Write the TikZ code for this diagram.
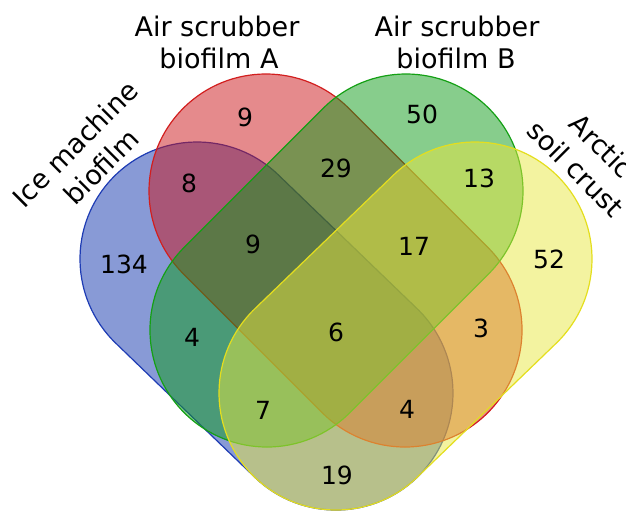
\documentclass[tikz,border=0pt]{standalone}
\usepackage{fontspec}
\setmainfont{DejaVu Sans}
\definecolor{bfill}{RGB}{17,53,173}
\definecolor{bline}{RGB}{30,60,180}
\definecolor{rfill}{RGB}{203,21,25}
\definecolor{rline}{RGB}{210,30,30}
\definecolor{gfill}{RGB}{15,155,25}
\definecolor{gline}{RGB}{20,160,20}
\definecolor{yfill}{RGB}{231,231,65}
\definecolor{yline}{RGB}{228,222,30}
\begin{document}
\begin{tikzpicture}[x=1pt,y=1pt,
  setshape/.style={line width=1.2pt, fill opacity=0.5},
  num/.style={font=\fontsize{25}{30}\selectfont, text=black, inner sep=0pt},
  lab/.style={font=\fontsize{27}{32}\selectfont, text=black, inner sep=0pt}]
\useasboundingbox (0,0) rectangle (626,515);
% Ice machine biofilm (blue)
\begin{scope}[shift={(197,256)}, rotate=-43.96]
\draw[setshape, draw=bline, fill=bfill] (0,-117) -- (193.1,-117)
  arc[start angle=-90, end angle=90, radius=117pt] -- (0,117)
  arc[start angle=90, end angle=270, radius=117pt] -- cycle;
\end{scope}
% Air scrubber biofilm A (red)
\begin{scope}[shift={(266,324)}, rotate=-45]
\draw[setshape, draw=rline, fill=rfill] (0,-117) -- (196.6,-117)
  arc[start angle=-90, end angle=90, radius=117pt] -- (0,117)
  arc[start angle=90, end angle=270, radius=117pt] -- cycle;
\end{scope}
% Air scrubber biofilm B (green)
\begin{scope}[shift={(406,324)}, rotate=-135]
\draw[setshape, draw=gline, fill=gfill] (0,-117) -- (196.6,-117)
  arc[start angle=-90, end angle=90, radius=117pt] -- (0,117)
  arc[start angle=90, end angle=270, radius=117pt] -- cycle;
\end{scope}
% Arctic soil crust (yellow)
\begin{scope}[shift={(475,256)}, rotate=-136.04]
\draw[setshape, draw=yline, fill=yfill] (0,-117) -- (193.1,-117)
  arc[start angle=-90, end angle=90, radius=117pt] -- (0,117)
  arc[start angle=90, end angle=270, radius=117pt] -- cycle;
\end{scope}
% labels
\node[lab, anchor=base] (la1) at (217,478.3) {Air scrubber};
\node[lab, anchor=base] (la2) at (219,446.7) {biofilm A};
\node[lab, anchor=base] (lb1) at (457,478.3) {Air scrubber};
\node[lab, anchor=base] (lb2) at (456,446.7) {biofilm B};
\node[lab, rotate=45] (li1) at (75,371) {Ice machine};
\node[lab, rotate=45] (li2) at (101,348.5) {biofilm};
\node[lab, rotate=-45] (lc1) at (602,369) {Arctic};
\node[lab, rotate=-45] (lc2) at (576,346.5) {soil crust};
% counts
\node[num] (n9a) at (245,398) {9};
\node[num] (n50) at (422,401) {50};
\node[num] (n8) at (189,332) {8};
\node[num] (n29) at (336,347) {29};
\node[num] (n13) at (479,337) {13};
\node[num] (n134) at (124,251) {134};
\node[num] (n9b) at (253,271) {9};
\node[num] (n17) at (414,269) {17};
\node[num] (n52) at (549,256) {52};
\node[num] (n4a) at (192,178) {4};
\node[num] (n6) at (336,183) {6};
\node[num] (n3) at (481,187) {3};
\node[num] (n7) at (263,105) {7};
\node[num] (n4b) at (407,106) {4};
\node[num] (n19) at (337,40) {19};
\end{tikzpicture}
\end{document}
